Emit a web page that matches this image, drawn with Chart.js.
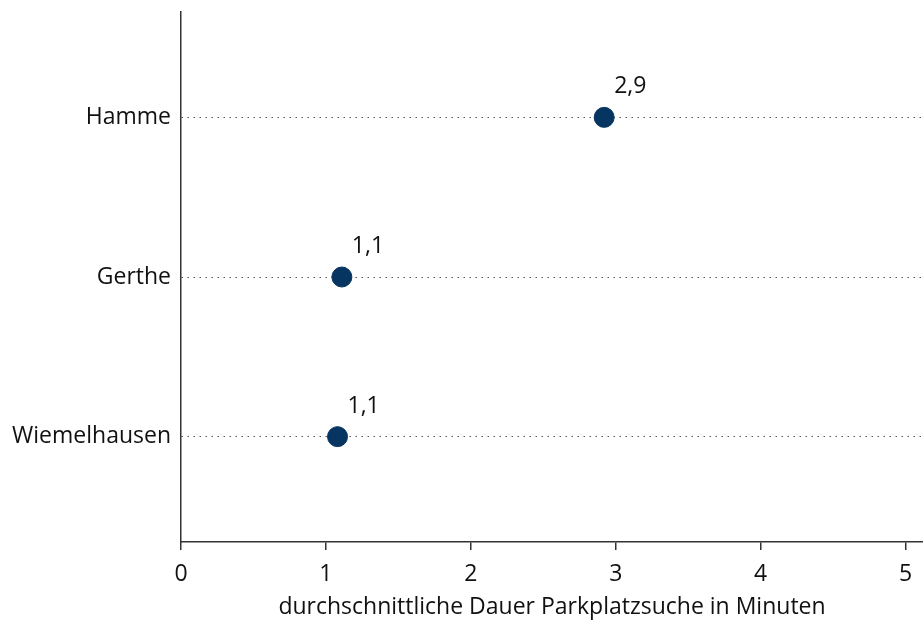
<!DOCTYPE html>
<html>
<head>
<meta charset="utf-8">
<script src="https://cdn.jsdelivr.net/npm/chart.js@4"></script>
<style>
  html, body { margin: 0; padding: 0; background: #fff; }
  #chart { display: block; }
</style>
</head>
<body>
<canvas id="chart" width="923" height="623"></canvas>
<script>
// categories bottom -> top (y = 1, 2, 3)
const districts = ["Wiemelhausen", "Gerthe", "Hamme"];
const minutes = [1.08, 1.11, 2.92];
const valueLabels = ["1,1", "1,1", "2,9"];
const xTicks = [0, 1, 2, 3, 4, 5];
const axisTitle = "durchschnittliche Dauer Parkplatzsuche in Minuten";

const FONT = "'Open Sans', 'Noto Sans', sans-serif";
const SIZE = 23;

// value labels above each dot, slightly to the right
const valueLabelPlugin = {
  id: "valueLabels",
  afterDatasetsDraw(chart) {
    const ctx = chart.ctx;
    const meta = chart.getDatasetMeta(0);
    ctx.save();
    ctx.font = SIZE + "px " + FONT;
    ctx.fillStyle = "#111";
    ctx.textAlign = "left";
    ctx.textBaseline = "alphabetic";
    meta.data.forEach((pt, i) => {
      ctx.fillText(valueLabels[i], pt.x + 10, pt.y - 24);
    });
    ctx.restore();
  },
};

new Chart(document.getElementById("chart"), {
  type: "scatter",
  data: {
    datasets: [
      {
        data: minutes.map((m, i) => ({ x: m, y: i + 1 })),
        backgroundColor: "#073561",
        borderColor: "#073561",
        pointRadius: 10,
        pointHoverRadius: 10,
      },
    ],
  },
  options: {
    responsive: false,
    animation: false,
    layout: {
      autoPadding: false,
      padding: { top: 12, right: 0, bottom: 2, left: 0 },
    },
    plugins: { legend: { display: false }, tooltip: { enabled: false } },
    scales: {
      x: {
        type: "linear",
        min: 0,
        max: 5.12,
        afterBuildTicks: (s) => {
          s.ticks = xTicks.map((v) => ({ value: v }));
        },
        afterFit: (s) => {
          s.height = 79;
          s.paddingLeft = 0;
          s.paddingRight = 0;
        },
        ticks: {
          color: "#111",
          font: { family: FONT, size: SIZE },
          padding: 11,
        },
        grid: {
          drawOnChartArea: false,
          drawTicks: true,
          tickLength: 8,
          color: "#333",
          lineWidth: 1.5,
        },
        border: { color: "#333", width: 1.5 },
        title: {
          display: true,
          text: axisTitle,
          color: "#111",
          font: { family: FONT, size: SIZE },
          padding: { top: 0, bottom: 0 },
        },
      },
      y: {
        type: "linear",
        min: 0.34,
        max: 3.66,
        afterBuildTicks: (s) => {
          s.ticks = districts.map((_, i) => ({ value: i + 1 }));
        },
        afterFit: (s) => {
          s.width = 181;
          s.paddingTop = 0;
          s.paddingBottom = 0;
        },
        ticks: {
          color: "#111",
          font: { family: FONT, size: SIZE },
          padding: 10,
          callback: (v) => districts[v - 1] || "",
        },
        grid: {
          drawOnChartArea: true,
          drawTicks: false,
          color: "#555",
          lineWidth: 1,
        },
        border: { color: "#333", width: 1.5, dash: [1.5, 4.5] },
      },
    },
  },
  plugins: [valueLabelPlugin],
});
</script>
</body>
</html>
